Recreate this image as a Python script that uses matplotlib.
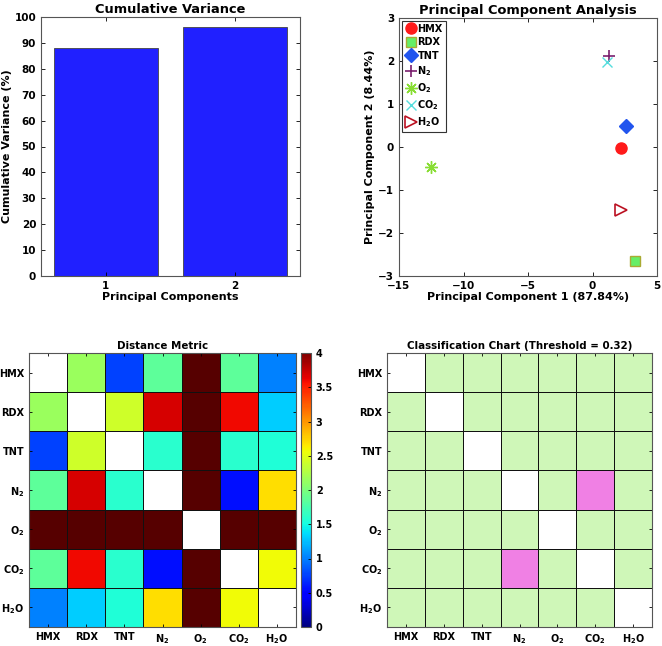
import numpy as np
import matplotlib
matplotlib.use('Agg')
import matplotlib.pyplot as plt
from matplotlib.colors import ListedColormap

plt.rcParams['font.family'] = ['DejaVu Sans']
plt.rcParams['font.weight'] = 'bold'
plt.rcParams['axes.labelweight'] = 'bold'
plt.rcParams['axes.titleweight'] = 'bold'

# 数据
pcs = [1, 2]
cum_var = [87.84, 96.28]

names = ['HMX', 'RDX', 'TNT', 'N2', 'O2', 'CO2', 'H2O']
tick_labels = ['HMX', 'RDX', 'TNT', r'$\mathbf{N_2}$', r'$\mathbf{O_2}$',
               r'$\mathbf{CO_2}$', r'$\mathbf{H_2O}$']
pc1 = [2.2, 3.3, 2.6, 1.3, -12.5, 1.1, 2.2]
pc2 = [-0.03, -2.65, 0.5, 2.12, -0.47, 1.97, -1.47]

# 距离矩阵 (对角线为 nan, O2 超出色标上限)
dist = [
    [np.nan, 2.15, 0.75, 1.85, 9.0, 1.85, 1.0],
    [2.15, np.nan, 2.4, 3.7, 9.0, 3.6, 1.3],
    [0.75, 2.4, np.nan, 1.6, 9.0, 1.6, 1.55],
    [1.85, 3.7, 1.6, np.nan, 9.0, 0.55, 2.7],
    [9.0, 9.0, 9.0, 9.0, np.nan, 9.0, 9.0],
    [1.85, 3.6, 1.6, 0.55, 9.0, np.nan, 2.57],
    [1.0, 1.3, 1.55, 2.7, 9.0, 2.57, np.nan],
]
# 分类矩阵: 1 = 可区分, 0 = 混淆
cls = [
    [np.nan, 1, 1, 1, 1, 1, 1],
    [1, np.nan, 1, 1, 1, 1, 1],
    [1, 1, np.nan, 1, 1, 1, 1],
    [1, 1, 1, np.nan, 1, 0, 1],
    [1, 1, 1, 1, np.nan, 1, 1],
    [1, 1, 1, 0, 1, np.nan, 1],
    [1, 1, 1, 1, 1, 1, np.nan],
]

W, H = 662, 646
fig = plt.figure(figsize=(W/100, H/100), dpi=100)

def box(x0, y0, x1, y1):
    return [x0/W, (H-y1)/H, (x1-x0)/W, (y1-y0)/H]

def matlab_ticks(ax, size=6):
    ax.tick_params(direction='in', top=True, right=True, labelsize=size, length=3, width=0.6)
    for s in ax.spines.values():
        s.set_color('#555555')
        s.set_linewidth(0.8)

# 累积方差
ax1 = fig.add_axes(box(41, 17, 300, 276))
ax1.bar(pcs, cum_var, width=0.8, color='#2020ff', edgecolor='#444444', linewidth=0.6)
ax1.set_xlim(0.5, 2.5)
ax1.set_ylim(0, 100)
ax1.set_xticks(pcs)
ax1.set_yticks(range(0, 101, 10))
matlab_ticks(ax1, 7.5)
ax1.set_title('Cumulative Variance', fontsize=9.4, pad=3)
ax1.set_xlabel('Principal Components', fontsize=8, labelpad=1)
ax1.set_ylabel('Cumulative Variance (%)', fontsize=8, labelpad=2)

# 主成分分析
ax2 = fig.add_axes(box(399, 18, 657, 276))
styles = [
    dict(marker='o', color='#ff1a1a', markersize=8, linestyle='none'),
    dict(marker='s', color='#66ee66', markeredgecolor='#aaaa33', markersize=7, linestyle='none'),
    dict(marker='D', color='#2255ee', markersize=7, linestyle='none'),
    dict(marker='+', color='#7a1f6e', markersize=9, markeredgewidth=1.2, linestyle='none'),
    dict(marker=(8, 2, 0), color='#88dd33', markersize=9, markeredgewidth=1.0, linestyle='none'),
    dict(marker='x', color='#55dddd', markersize=7, markeredgewidth=1.0, linestyle='none'),
    dict(marker='>', color='#bb1122', markerfacecolor='none', markersize=9, markeredgewidth=1.2, linestyle='none'),
]
for i in range(len(names)):
    ax2.plot(pc1[i], pc2[i], label=tick_labels[i], **styles[i])
ax2.set_xlim(-15, 5)
ax2.set_ylim(-3, 3)
ax2.set_xticks(range(-15, 6, 5))
ax2.set_yticks(range(-3, 4))
matlab_ticks(ax2, 7.5)
ax2.set_title('Principal Component Analysis', fontsize=9.4, pad=3)
ax2.set_xlabel('Principal Component 1 (87.84%)', fontsize=8, labelpad=1)
ax2.set_ylabel('Principal Component 2 (8.44%)', fontsize=8, labelpad=2)
leg = ax2.legend(loc='upper left', fontsize=7, handletextpad=0.1, handlelength=1.2,
                 borderpad=0.3, labelspacing=0.35, borderaxespad=0.3, fancybox=False,
                 framealpha=1)
leg.get_frame().set_edgecolor('#333333')
leg.get_frame().set_linewidth(0.8)
for t in leg.get_texts():
    t.set_fontweight('bold')

# 距离矩阵
ax3 = fig.add_axes(box(29, 353, 296, 627))
cmap = plt.get_cmap('jet').copy()
cmap.set_over('#560000')
cmap.set_bad('white')
dm = np.ma.masked_invalid(np.array(dist))
n = len(names)
mesh = ax3.pcolormesh(np.arange(n+1), np.arange(n+1), dm, cmap=cmap, vmin=0, vmax=4,
                      edgecolors='#111111', linewidth=0.5)
ax3.set_xlim(0, n)
ax3.set_ylim(n, 0)
ax3.set_xticks(np.arange(n)+0.5)
ax3.set_yticks(np.arange(n)+0.5)
ax3.set_xticklabels(tick_labels)
ax3.set_yticklabels(tick_labels)
matlab_ticks(ax3, 7)
ax3.tick_params(length=2)
ax3.set_title('Distance Metric', fontsize=7.4, pad=3)

cax = fig.add_axes(box(301, 353, 311, 627))
cb = fig.colorbar(mesh, cax=cax, ticks=np.arange(0, 4.01, 0.5), extend='neither')
cb.ax.set_yticklabels(['0', '0.5', '1', '1.5', '2', '2.5', '3', '3.5', '4'])
cb.ax.tick_params(direction='in', labelsize=7, length=2, width=0.6)
cb.outline.set_edgecolor('#555555')
cb.outline.set_linewidth(0.8)

# 分类图
ax4 = fig.add_axes(box(387, 353, 652, 627))
cls_cmap = ListedColormap(['#f080e4', '#cff7b8'])
cls_cmap.set_bad('white')
cm = np.ma.masked_invalid(np.array(cls))
ax4.pcolormesh(np.arange(n+1), np.arange(n+1), cm, cmap=cls_cmap, vmin=0, vmax=1,
               edgecolors='#111111', linewidth=0.5)
ax4.set_xlim(0, n)
ax4.set_ylim(n, 0)
ax4.set_xticks(np.arange(n)+0.5)
ax4.set_yticks(np.arange(n)+0.5)
ax4.set_xticklabels(tick_labels)
ax4.set_yticklabels(tick_labels)
matlab_ticks(ax4, 7)
ax4.tick_params(length=2)
ax4.set_title('Classification Chart (Threshold = 0.32)', fontsize=7.4, pad=3)

fig.savefig('out.png', dpi=100)
